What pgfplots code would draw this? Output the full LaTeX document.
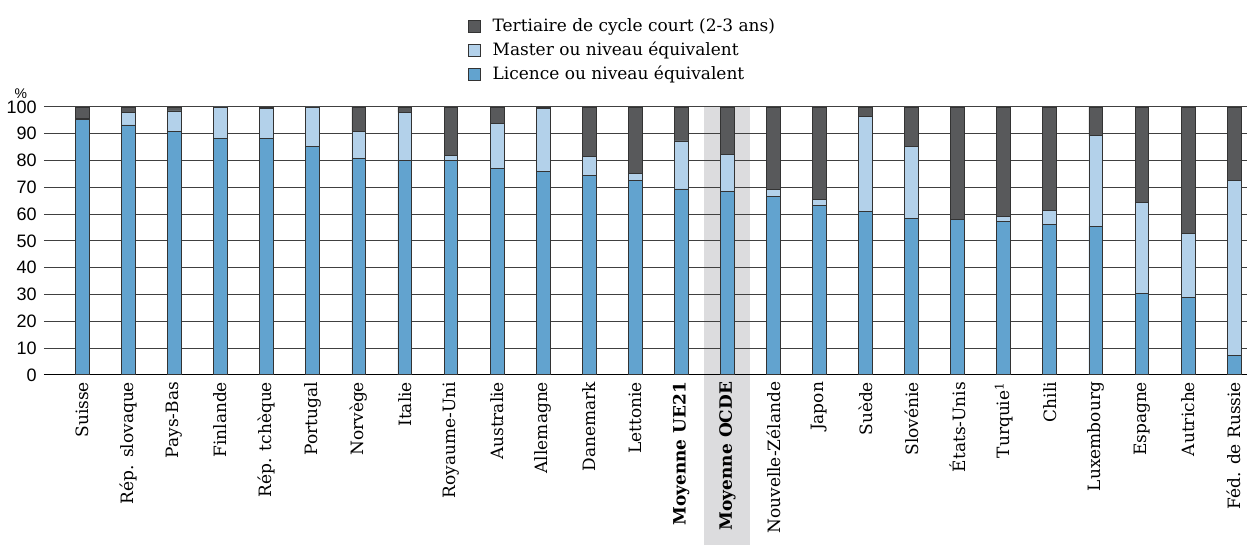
\documentclass[border=0pt]{standalone}
\usepackage{fontspec}
\setmainfont{DejaVu Serif}
\newfontfamily\ticksans{Liberation Sans}
\usepackage{pgfplots}
\usepackage{pgfplotstable}
\pgfplotsset{compat=1.18}

\definecolor{licence}{HTML}{62A3CF}
\definecolor{master}{HTML}{B3D1EA}
\definecolor{tertiaire}{HTML}{58595B}
\definecolor{bande}{HTML}{DCDCDE}

% idx, licence, master, tertiaire de cycle court (parts en %)
\pgfplotstableread{
idx lic mas ter
0  95.3  0.5  4.2
1  93.3  4.5  2.2
2  90.7  7.8  1.5
3  88.4 11.6  0.0
4  88.2 11.1  0.7
5  85.1 14.9  0.0
6  80.8 10.2  9.0
7  80.2 17.8  2.0
8  79.9  1.9 18.2
9  77.2 16.8  6.0
10 75.8 23.7  0.5
11 74.6  6.8 18.6
12 72.7  2.4 24.9
13 69.4 17.9 12.7
14 68.6 13.8 17.6
15 66.5  2.6 30.9
16 63.1  2.4 34.5
17 61.1 35.2  3.7
18 58.3 26.8 14.9
19 58.0  0.0 42.0
20 57.4  1.8 40.8
21 56.2  5.1 38.7
22 55.4 33.8 10.8
23 30.5 33.9 35.6
24 28.8 24.1 47.1
25  7.1 65.5 27.4
}\donnees

\pgfplotsset{
  sq legend/.style={legend image code/.code={%
    \draw[##1, draw=black!80, line width=0.4pt] (0pt,-3pt) rectangle (6pt,3pt);
    \path (10.5pt,0pt);}},
  cadre/.style={scale only axis, width=602pt, height=134pt,
    xmin=-0.84, xmax=25.29, ymin=0, ymax=100, clip=false},
}

\begin{document}
\begin{tikzpicture}
% bande grise de la moyenne OCDE, derrière la grille
\begin{axis}[cadre, hide axis]
  \fill[bande] (axis cs:13.5,100) rectangle ([yshift=-85pt]axis cs:14.5,0);
  \path ([xshift=-21.5pt, yshift=53.5pt]rel axis cs:0,1) -- ([yshift=-85pt]rel axis cs:1,0);
\end{axis}
\begin{axis}[
    cadre,
    ybar stacked,
    bar width=0.3,
    ytick={0,10,...,100},
    xtick=data,
    xticklabels={Suisse, Rép. slovaque, Pays-Bas, Finlande, Rép. tchèque,
      Portugal, Norvège, Italie, Royaume-Uni, Australie, Allemagne, Danemark,
      Lettonie, \textbf{Moyenne UE21}, \textbf{Moyenne OCDE}, Nouvelle-Zélande,
      Japon, Suède, Slovénie, États-Unis, Turquie\textsuperscript{1}, Chili,
      Luxembourg, Espagne, Autriche, Féd. de Russie},
    x tick label style={rotate=90, anchor=east, font=\fontsize{8.5}{10}\selectfont},
    y tick label style={font=\ticksans\fontsize{9}{10}\selectfont},
    /pgf/number format/assume math mode=true,
    axis x line*=bottom,
    axis y line*=left,
    y axis line style={draw=none},
    x axis line style={black, line width=0.6pt},
    tick style={draw=none},
    ymajorgrids,
    grid style={black!75, line width=0.5pt},
    legend style={draw=none, fill=none, at={(0.352,1.342)}, anchor=north west,
      font=\fontsize{8.5}{10}\selectfont, row sep=0.6pt, inner sep=0pt,
      nodes={inner sep=1.5pt}},
    legend cell align=left,
    reverse legend,
]
\addplot[fill=licence, draw=black!80, line width=0.4pt, sq legend] table[x=idx, y=lic] {\donnees};
\addplot[fill=master, draw=black!80, line width=0.4pt, sq legend] table[x=idx, y=mas] {\donnees};
\addplot[fill=tertiaire, draw=black!80, line width=0.4pt, sq legend] table[x=idx, y=ter] {\donnees};
\legend{Licence ou niveau équivalent, Master ou niveau équivalent, Tertiaire de cycle court (2-3 ans)}
\node[font=\ticksans\fontsize{7}{8}\selectfont, anchor=base] at ([xshift=-11.5pt, yshift=4pt]rel axis cs:0,1) {\%};
\end{axis}
\end{tikzpicture}
\end{document}
